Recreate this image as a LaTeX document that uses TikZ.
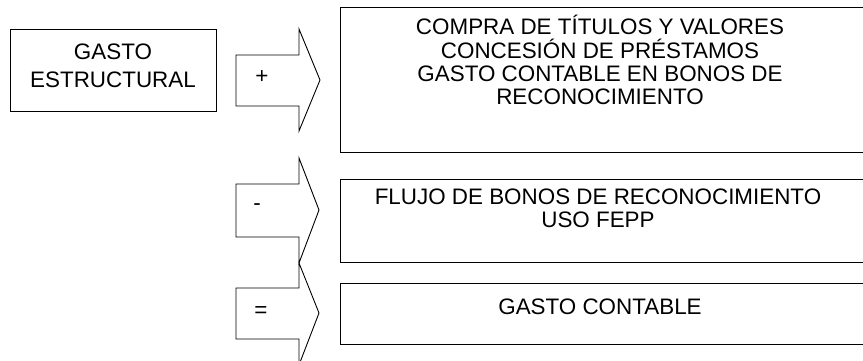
\documentclass[tikz,border=0pt]{standalone}
\usepackage{fontspec}
\setmainfont{Liberation Sans}
\begin{document}
\begin{tikzpicture}[x=1pt,y=-1pt,
  box/.style={draw=black,line width=0.9pt},
  arr/.style={draw=black,line width=0.9pt,line join=miter},
  txt/.style={align=center,inner sep=0pt,font=\fontsize{22.4}{23.2}\selectfont},
  sign/.style={inner sep=0pt,font=\fontsize{22.4}{23.2}\selectfont}]
\useasboundingbox (0,0) rectangle (863,360);
\clip (0,0) rectangle (863,360);
% left box
\draw[box] (10,29) rectangle (216,111);
\node[txt,font=\fontsize{22.4}{28}\selectfont] (gasto) at (113,66) {GASTO\\ESTRUCTURAL};
% right boxes
\draw[box] (340,7) rectangle (868,152);
\draw[box] (340,179) rectangle (868,262);
\draw[box] (340,283) rectangle (868,344);
\node[txt] (plus) at (600,60) {COMPRA DE TÍTULOS Y VALORES\\CONCESIÓN DE PRÉSTAMOS\\GASTO CONTABLE EN BONOS DE\\RECONOCIMIENTO};
\node[txt] (minus) at (598,208) {FLUJO DE BONOS DE RECONOCIMIENTO\\USO FEPP};
\node[txt] (equal) at (600,307) {GASTO CONTABLE};
% block arrows
\draw[arr] (236,55) -- (299,55) -- (299,29) -- (320,80) -- (299,131) -- (299,106) -- (236,106) -- cycle;
\draw[arr] (236,184) -- (299,184) -- (299,158) -- (319,210) -- (299,263) -- (299,237) -- (236,237) -- cycle;
\draw[arr] (236,288) -- (299,288) -- (299,263) -- (319,313) -- (299,365) -- (299,339) -- (236,339) -- cycle;
\node[sign] (s1) at (262,77) {+};
\node[sign] (s2) at (257,207) {-};
\node[sign] (s3) at (261,312) {=};
\end{tikzpicture}
\end{document}
